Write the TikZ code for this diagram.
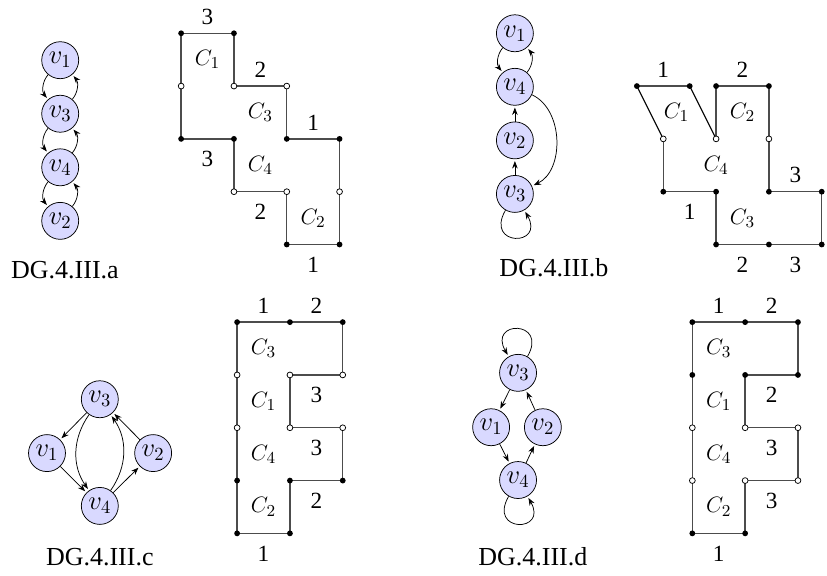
\documentclass[tikz,border=0pt]{standalone}
\usepackage{fontspec}
\setmainfont{Liberation Serif}
\usetikzlibrary{
  arrows.meta,
  positioning,
}
\tikzset{
  >={Stealth[length=4pt, width=3pt]},
  vert/.style={circle, draw, fill=blue!15, minimum size=0.7cm, inner sep=0pt, font=\Large},
  link/.style={->, shorten >=1pt},
  seg/.style={draw=black!70, line width=0.7pt},
  cut/.style={draw=black, line width=0.6pt},
  num/.style={font=\fontsize{12.5}{14}\selectfont},
  piece/.style={font=\fontsize{12.5}{14}\selectfont},
  caption/.style={font=\fontsize{14}{16}\selectfont},
}

\begin{document}
\begin{tikzpicture}
  \useasboundingbox (0, 0) rectangle (15.66, -10.89);

  % DG.4.III.a
  \node [vert] (a1) at (1.14, -1.14) {$v_1$};
  \node [vert, below=0.3cm of a1] (a3) {$v_3$};
  \node [vert, below=0.3cm of a3] (a4) {$v_4$};
  \node [vert, below=0.3cm of a4] (a2) {$v_2$};
  \foreach \u/\w in {a1/a3, a3/a4, a4/a2}
  {
    \draw [link] (\u) to [bend right=40] (\w);
    \draw [link] (\w) to [bend right=40] (\u);
  }
  \node [caption] (capa) at (1.23, -5.11) {DG.4.III.a};

  \begin{scope}[shift={(3.43, -0.63)}, y=-1cm]
    \draw [seg] (0, 0) -- node [num, above=1pt] {3} (1, 0);
    \draw [seg] (0, 0) -- (0, 2) -- node [num, below=3pt] {3} (1, 2) -- (1, 3)
      -- node [num, below=3pt] {2} (2, 3) -- (2, 4) -- node [num, below=3pt] {1} (3, 4) -- (3, 2);
    \draw [seg] (1, 0) -- (1, 1) -- node [num, above=1pt] {2} (2, 1) -- (2, 2)
      -- node [num, above=1pt] {1} (3, 2);
    \foreach \p in {(0, 0), (1, 0), (0, 2), (1, 2), (2, 2), (3, 2), (2, 4), (3, 4)}
      \fill \p circle (0.055);
    \foreach \p in {(0, 1), (1, 1), (2, 1), (1, 3), (2, 3), (3, 3)}
      \filldraw [fill=white, line width=0.4pt] \p circle (0.055);
    \node [piece] at (0.5, 0.5) {$C_1$};
    \node [piece] at (1.5, 1.5) {$C_3$};
    \node [piece] at (1.5, 2.5) {$C_4$};
    \node [piece] at (2.5, 3.5) {$C_2$};
  \end{scope}

  % DG.4.III.b
  \node [vert] (b1) at (9.75, -0.63) {$v_1$};
  \node [vert, below=0.3cm of b1] (b4) {$v_4$};
  \node [vert, below=0.3cm of b4] (b2) {$v_2$};
  \node [vert, below=0.3cm of b2] (b3) {$v_3$};
  \draw [link] (b1) to [bend right=40] (b4);
  \draw [link] (b4) to [bend right=40] (b1);
  \draw [link] (b2) -- (b4);
  \draw [link] (b3) -- (b2);
  \draw [link] (b4) to [bend left=65] (b3);
  \draw [link] (b3) to [loop, out=-120, in=-60, min distance=8mm] (b3);
  \node [caption] (capb) at (10.49, -5.06) {DG.4.III.b};

  \begin{scope}[shift={(12.56, -1.63)}, y=-1cm]
    \draw [seg] (-0.5, 0) -- node [num, above=1pt] {1} (0.5, 0);
    \draw [cut] (-0.5, 0) -- (0, 1);
    \draw [cut] (0.5, 0) -- (1, 1);
    \draw [seg] (1, 1) -- (1, 0) -- node [num, above=1pt] {2} (2, 0) -- (2, 2)
      -- node [num, above=1pt] {3} (3, 2) -- (3, 3);
    \draw [seg] (0, 1) -- (0, 2) -- node [num, below=3pt] {1} (1, 2) -- (1, 3)
      -- node [num, below=3pt] {2} (2, 3) -- node [num, below=3pt] {3} (3, 3);
    \foreach \p in {(-0.5, 0), (0.5, 0), (1, 0), (2, 0), (0, 2), (1, 2), (2, 2), (3, 2), (1, 3), (2, 3), (3, 3)}
      \fill \p circle (0.055);
    \foreach \p in {(0, 1), (1, 1), (2, 1)}
      \filldraw [fill=white, line width=0.4pt] \p circle (0.055);
    \node [piece] at (0.25, 0.5) {$C_1$};
    \node [piece] at (1.5, 0.5) {$C_2$};
    \node [piece] at (1, 1.5) {$C_4$};
    \node [piece] at (1.5, 2.5) {$C_3$};
  \end{scope}

  % DG.4.III.c
  \node [vert] (c3) at (1.89, -7.56) {$v_3$};
  \node [vert] (c1) at (0.89, -8.58) {$v_1$};
  \node [vert] (c2) at (2.90, -8.58) {$v_2$};
  \node [vert] (c4) at (1.89, -9.58) {$v_4$};
  \draw [link] (c3) -- (c1);
  \draw [link] (c1) -- (c4);
  \draw [link] (c4) -- (c2);
  \draw [link] (c2) -- (c3);
  \draw [link] (c3) to [bend right=35] (c4);
  \draw [link] (c4) to [bend right=35] (c3);
  \node [caption] (capc) at (1.89, -10.55) {DG.4.III.c};

  \begin{scope}[shift={(4.49, -6.10)}, y=-1cm]
    \draw [seg] (0, 0) -- node [num, above=1pt] {1} (1, 0) -- node [num, above=1pt] {2} (2, 0)
      -- (2, 1) -- node [num, below=3pt] {3} (1, 1) -- (1, 2) -- node [num, below=3pt] {3} (2, 2)
      -- (2, 3) -- node [num, below=3pt] {2} (1, 3) -- (1, 4) -- node [num, below=3pt] {1} (0, 4) -- cycle;
    \foreach \p in {(0, 0), (1, 0), (2, 0), (0, 3), (1, 3), (2, 3), (0, 4), (1, 4)}
      \fill \p circle (0.055);
    \foreach \p in {(0, 1), (0, 2), (1, 1), (2, 1), (1, 2), (2, 2)}
      \filldraw [fill=white, line width=0.4pt] \p circle (0.055);
    \node [piece] at (0.5, 0.5) {$C_3$};
    \node [piece] at (0.5, 1.5) {$C_1$};
    \node [piece] at (0.5, 2.5) {$C_4$};
    \node [piece] at (0.5, 3.5) {$C_2$};
  \end{scope}

  % DG.4.III.d
  \node [vert] (d3) at (9.81, -7.06) {$v_3$};
  \node [vert] (d1) at (9.30, -8.09) {$v_1$};
  \node [vert] (d2) at (10.28, -8.09) {$v_2$};
  \node [vert] (d4) at (9.81, -9.09) {$v_4$};
  \draw [link] (d3) -- (d1);
  \draw [link] (d1) -- (d4);
  \draw [link] (d4) -- (d2);
  \draw [link] (d2) -- (d3);
  \draw [link] (d3) to [loop, out=60, in=120, min distance=8mm] (d3);
  \draw [link] (d4) to [loop, out=-120, in=-60, min distance=8mm] (d4);
  \node [caption] (capd) at (10.09, -10.55) {DG.4.III.d};

  \begin{scope}[shift={(13.11, -6.10)}, y=-1cm]
    \draw [seg] (0, 0) -- node [num, above=1pt] {1} (1, 0) -- node [num, above=1pt] {2} (2, 0)
      -- (2, 1) -- node [num, below=3pt] {2} (1, 1) -- (1, 2) -- node [num, below=3pt] {3} (2, 2)
      -- (2, 3) -- node [num, below=3pt] {3} (1, 3) -- (1, 4) -- node [num, below=3pt] {1} (0, 4) -- cycle;
    \foreach \p in {(0, 0), (1, 0), (2, 0), (0, 1), (1, 1), (2, 1), (0, 4), (1, 4)}
      \fill \p circle (0.055);
    \foreach \p in {(0, 2), (0, 3), (1, 2), (2, 2), (1, 3), (2, 3)}
      \filldraw [fill=white, line width=0.4pt] \p circle (0.055);
    \node [piece] at (0.5, 0.5) {$C_3$};
    \node [piece] at (0.5, 1.5) {$C_1$};
    \node [piece] at (0.5, 2.5) {$C_4$};
    \node [piece] at (0.5, 3.5) {$C_2$};
  \end{scope}
\end{tikzpicture}
\end{document}
